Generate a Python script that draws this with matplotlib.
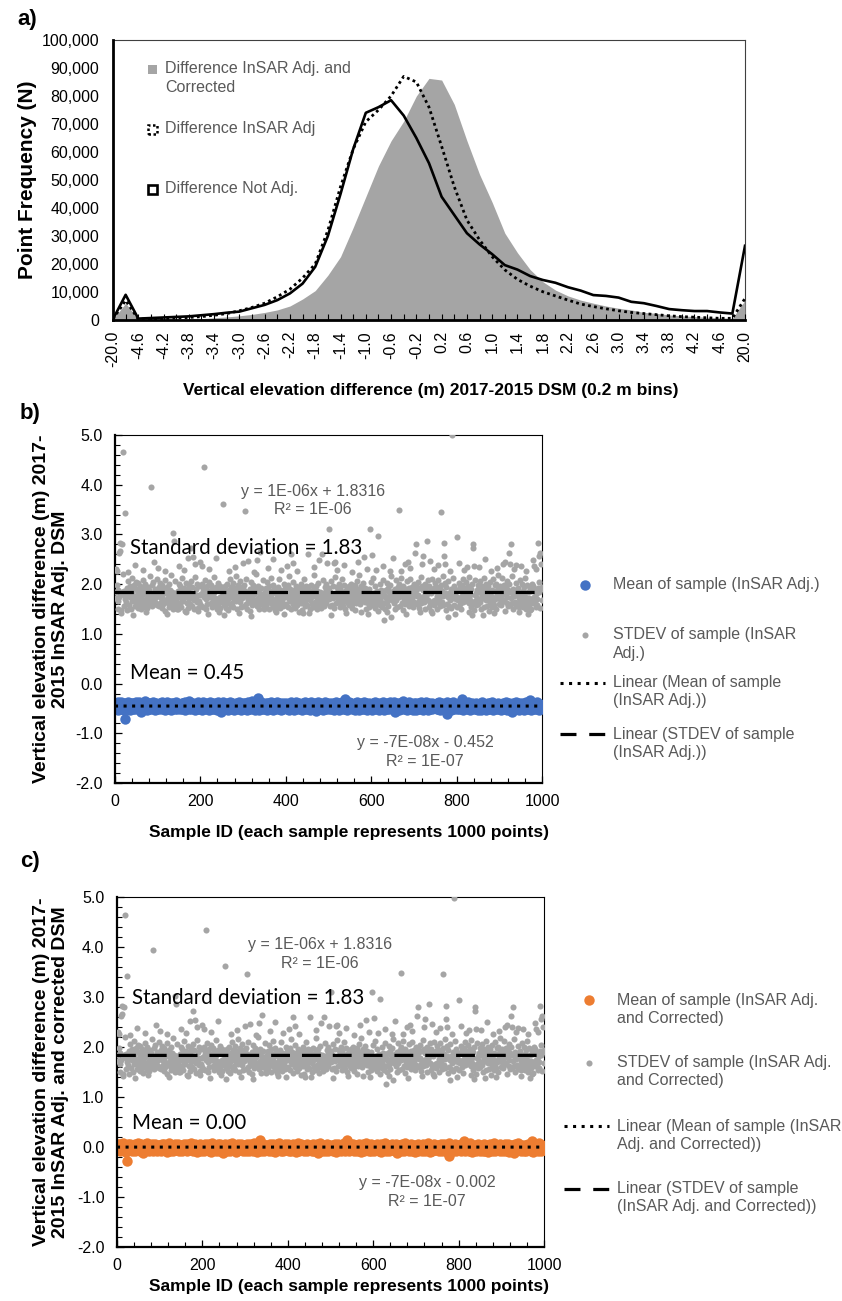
import numpy as np
import matplotlib
matplotlib.use('Agg')
import matplotlib.pyplot as plt
from matplotlib.lines import Line2D
from matplotlib.patches import Rectangle
from matplotlib.ticker import MultipleLocator, FuncFormatter, FormatStrFormatter

plt.rcParams['font.family'] = ['Liberation Sans', 'DejaVu Sans']

W, H = 842, 1301


def fx(px):
    return px / W


def fy(py):
    return 1 - py / H


# ---------------- Panel a data ----------------
bin_labels = ['-20.0', '-4.8', '-4.6', '-4.4', '-4.2', '-4.0', '-3.8', '-3.6', '-3.4', '-3.2',
              '-3.0', '-2.8', '-2.6', '-2.4', '-2.2', '-2.0', '-1.8', '-1.6', '-1.4', '-1.2',
              '-1.0', '-0.8', '-0.6', '-0.4', '-0.2', '0.0', '0.2', '0.4', '0.6', '0.8',
              '1.0', '1.2', '1.4', '1.6', '1.8', '2.0', '2.2', '2.4', '2.6', '2.8',
              '3.0', '3.2', '3.4', '3.6', '3.8', '4.0', '4.2', '4.4', '4.6', '4.8', '20.0']
freq_not_adj = [300, 9000, 500, 700, 900, 1100, 1300, 1700, 2100, 2600,
                3000, 4200, 5400, 7100, 9500, 13000, 19000, 30000, 45000, 61000,
                74000, 76000, 78500, 73000, 65000, 56000, 44000, 37500, 31000, 27000,
                23500, 19600, 18000, 15700, 14300, 13300, 11700, 10500, 8900, 8600,
                8000, 6500, 6000, 5000, 3900, 3500, 3200, 3200, 2700, 2300, 26500]
freq_insar_adj = [300, 7000, 300, 400, 500, 700, 900, 1200, 1700, 2300,
                  3300, 4500, 6000, 8300, 11000, 15000, 20000, 32000, 47600, 61000,
                  70800, 75000, 80000, 87000, 85000, 76000, 62000, 47600, 35700, 28600,
                  22600, 17900, 14500, 12100, 10100, 8600, 7100, 5700, 4800, 4000,
                  3300, 2700, 2300, 1900, 1500, 1200, 1000, 800, 600, 600, 7700]
freq_insar_corrected = [200, 6000, 200, 200, 300, 300, 400, 500, 800, 1100,
                        1500, 2000, 2700, 3600, 5000, 7500, 10500, 16000, 22600, 33000,
                        44000, 55000, 64000, 71000, 80000, 86300, 85700, 77000, 64000, 52000,
                        42000, 31000, 24000, 18000, 13700, 10700, 8600, 7100, 6000, 5000,
                        4200, 3600, 2700, 2400, 1800, 1500, 1200, 1000, 800, 600, 7000]

# ---------------- Panel b/c data ----------------
# STDEV of each 1000-point sample (hundredths of a metre), samples 1..1000
stdev_band = [
    172, 185, 160, 198, 177, 151, 189, 166, 203, 175, 158, 192, 181, 169, 147, 210, 184, 163, 195, 178, 156, 187, 171, 201, 164,
    180, 193, 154, 176, 207, 168, 186, 159, 197, 174, 182, 150, 191, 167, 213, 179, 162, 188, 173, 199, 157, 183, 170, 205, 165,
    190, 176, 153, 184, 202, 169, 181, 158, 196, 172, 149, 187, 178, 164, 209, 175, 161, 193, 183, 155, 200, 171, 186, 166, 180,
    152, 194, 177, 163, 189, 174, 216, 160, 185, 170, 198, 157, 182, 167, 204, 179, 148, 191, 173, 162, 188, 176, 211, 159, 184,
    168, 195, 181, 156, 174, 203, 165, 187, 152, 179, 199, 170, 161, 190, 183, 146, 176, 208, 167, 185, 158, 194, 173, 180, 163,
    201, 154, 188, 177, 166, 219, 171, 184, 160, 197, 175, 151, 189, 169, 182, 206, 164, 178, 157, 192, 172, 186, 150, 200, 174,
    183, 162, 197, 176, 155, 188, 170, 212, 166, 181, 159, 193, 175, 145, 186, 168, 202, 179, 163, 190, 153, 184, 171, 198, 160,
    177, 207, 165, 182, 156, 195, 173, 187, 149, 180, 169, 214, 158, 191, 174, 164, 200, 178, 152, 185, 167, 196, 161, 179, 188,
    157, 180, 201, 169, 186, 154, 192, 175, 163, 209, 178, 150, 189, 171, 196, 160, 183, 167, 205, 174, 147, 187, 176, 162, 199,
    182, 155, 193, 168, 180, 215, 164, 185, 172, 158, 194, 177, 151, 188, 170, 203, 161, 181, 166, 197, 175, 153, 190, 173, 184,
    165, 191, 174, 208, 159, 182, 168, 196, 152, 186, 177, 162, 200, 171, 148, 189, 180, 166, 211, 175, 157, 194, 183, 163, 178,
    202, 155, 187, 170, 192, 161, 179, 217, 167, 184, 150, 198, 173, 188, 158, 176, 206, 164, 181, 154, 195, 172, 185, 160, 190,
    179, 156, 198, 172, 186, 161, 210, 175, 151, 183, 168, 195, 177, 164, 190, 146, 182, 171, 204, 159, 187, 174, 166, 199, 180,
    153, 192, 169, 185, 220, 162, 178, 157, 196, 173, 188, 149, 183, 167, 201, 176, 160, 193, 181, 165, 208, 170, 155, 189, 175,
    184, 167, 193, 158, 177, 205, 163, 189, 172, 150, 196, 180, 166, 187, 174, 213, 160, 182, 154, 199, 176, 169, 191, 148, 185,
    171, 203, 164, 179, 157, 194, 183, 168, 210, 175, 152, 188, 162, 197, 178, 165, 186, 173, 156, 201, 170, 181, 159, 192, 177,
    161, 188, 175, 199, 154, 183, 170, 216, 166, 190, 178, 149, 195, 172, 185, 160, 204, 176, 163, 189, 152, 181, 197, 168, 177,
    158, 207, 173, 186, 165, 193, 155, 180, 171, 200, 162, 187, 175, 147, 192, 169, 184, 211, 157, 179, 166, 196, 174, 188, 159,
    176, 195, 163, 182, 208, 169, 151, 187, 174, 199, 160, 184, 177, 155, 192, 170, 218, 165, 181, 158, 196, 173, 186, 149, 179,
    203, 167, 190, 172, 161, 185, 176, 153, 198, 168, 183, 209, 164, 178, 156, 194, 171, 187, 162, 201, 175, 150, 189, 180, 166,
    192, 170, 156, 185, 177, 206, 164, 181, 159, 197, 173, 188, 152, 179, 214, 167, 183, 162, 195, 176, 148, 190, 171, 200, 165,
    186, 155, 193, 178, 168, 210, 160, 182, 174, 157, 198, 169, 187, 151, 180, 204, 166, 191, 175, 163, 184, 172, 196, 158, 178,
    169, 186, 201, 160, 178, 153, 194, 175, 165, 189, 181, 147, 198, 172, 163, 207, 184, 156, 191, 170, 179, 218, 161, 188, 174,
    152, 196, 183, 167, 202, 176, 158, 185, 171, 193, 164, 180, 150, 199, 173, 187, 162, 212, 177, 155, 190, 168, 182, 205, 166,
    181, 158, 190, 174, 212, 166, 183, 152, 197, 176, 169, 205, 161, 187, 178, 146, 193, 172, 184, 159, 200, 175, 164, 189, 155,
    182, 209, 170, 186, 162, 195, 177, 151, 188, 173, 203, 165, 180, 157, 192, 171, 184, 149, 198, 176, 163, 216, 179, 168, 187,
    173, 197, 162, 185, 150, 191, 177, 208, 168, 182, 155, 194, 180, 166, 201, 174, 157, 188, 171, 213, 163, 186, 178, 148, 196,
    170, 184, 160, 199, 175, 152, 190, 167, 206, 179, 164, 187, 156, 193, 172, 183, 210, 161, 178, 195, 169, 154, 185, 176, 200,
    164, 183, 171, 199, 156, 188, 176, 160, 204, 179, 167, 192, 153, 185, 174, 215, 162, 181, 196, 170, 158, 189, 177, 165, 201,
    150, 186, 173, 194, 161, 180, 208, 168, 184, 155, 197, 175, 163, 190, 146, 182, 172, 211, 166, 187, 159, 193, 178, 169, 203,
    187, 166, 195, 177, 151, 184, 209, 170, 162, 191, 180, 156, 198, 173, 186, 164, 217, 176, 159, 189, 171, 202, 167, 183, 148,
    194, 178, 161, 187, 174, 206, 157, 182, 169, 197, 175, 153, 190, 181, 165, 212, 172, 185, 158, 196, 179, 163, 188, 170, 200,
    175, 154, 189, 168, 203, 181, 160, 194, 173, 186, 149, 199, 177, 165, 210, 171, 183, 157, 192, 176, 166, 205, 180, 152, 187,
    172, 196, 163, 184, 214, 169, 178, 155, 191, 174, 201, 162, 185, 170, 147, 195, 179, 167, 208, 158, 182, 173, 189, 164, 198,
    160, 192, 178, 207, 165, 183, 170, 150, 197, 176, 188, 162, 213, 174, 155, 185, 179, 201, 168, 191, 157, 181, 172, 196, 145,
    186, 169, 204, 163, 177, 193, 154, 189, 175, 210, 166, 182, 159, 198, 171, 186, 151, 200, 178, 167, 194, 173, 219, 161, 184,
    196, 171, 158, 186, 177, 212, 164, 190, 153, 181, 199, 168, 175, 146, 193, 183, 162, 206, 174, 188, 156, 179, 201, 167, 185,
    159, 195, 172, 216, 163, 180, 150, 191, 176, 198, 165, 184, 157, 203, 170, 187, 161, 192, 178, 154, 197, 173, 209, 168, 182,
    178, 163, 201, 172, 187, 155, 194, 180, 166, 213, 175, 151, 189, 169, 198, 160, 184, 207, 173, 158, 192, 177, 164, 186, 149,
    200, 171, 183, 162, 196, 175, 210, 167, 188, 154, 181, 203, 170, 159, 193, 176, 185, 165, 205, 174, 152, 190, 179, 168, 195,
]
# samples that stand out from the band (sample ID, metres)
stdev_outlier_id = [5, 9, 11, 12, 16, 18, 19, 24, 28, 84, 135, 138, 145, 172, 178, 183, 195, 200, 204, 209,
                    254, 256, 299, 304, 332, 340, 349, 413, 418, 441, 453, 455, 484, 497, 500, 512, 516, 576,
                    582, 597, 603, 617, 631, 643, 646, 664, 679, 687, 703, 705, 714, 718, 721, 730, 764, 770,
                    771, 773, 779, 790, 800, 824, 835, 838, 839, 841, 909, 922, 924, 927, 940, 972, 982, 991,
                    993, 995]
stdev_outlier_val = [2.27, 2.62, 2.67, 2.83, 2.81, 4.65, 2.20, 3.43, 1.47, 3.95, 3.02, 2.87, 1.50, 2.53, 2.73,
                     2.55, 1.45, 2.44, 2.37, 4.35, 3.62, 1.37, 2.43, 3.47, 2.48, 2.64, 1.49, 2.61, 2.43, 1.41,
                     2.61, 1.41, 2.60, 2.42, 3.11, 2.43, 2.45, 1.43, 2.55, 3.11, 2.58, 2.97, 1.27, 2.27, 1.34,
                     3.49, 2.40, 2.45, 2.63, 2.81, 1.43, 2.40, 2.57, 2.86, 3.46, 2.56, 2.83, 2.41, 1.34, 4.99,
                     2.95, 2.35, 1.37, 2.81, 2.73, 2.37, 2.40, 2.62, 2.40, 2.81, 2.39, 1.47, 2.37, 2.83, 2.57,
                     2.63]
# samples on the fringes of the band (sample ID, metres)
stdev_edge_id = [3, 31, 47, 66, 92, 101, 117, 150, 161, 188, 221, 237, 268, 281, 312, 326, 358, 371, 389, 402,
                 427, 466, 478, 521, 537, 555, 568, 589, 612, 628, 652, 669, 691, 737, 748, 756, 785, 806, 818,
                 853, 867, 881, 895, 913, 935, 951, 963, 978, 987, 998,
                 14, 42, 73, 121, 166, 218, 243, 290, 318, 377, 396, 432, 507, 541, 593, 638, 681, 742, 797,
                 829, 862, 887, 946, 968]
stdev_edge_val = [2.31, 2.25, 2.38, 2.29, 2.45, 2.33, 2.26, 2.36, 2.28, 2.41, 2.30, 2.52, 2.27, 2.35, 2.47,
                  2.24, 2.32, 2.50, 2.28, 2.37, 2.26, 2.34, 2.48, 2.29, 2.39, 2.25, 2.44, 2.31, 2.28, 2.36,
                  2.52, 2.27, 2.33, 2.46, 2.30, 2.38, 2.26, 2.42, 2.29, 2.35, 2.50, 2.27, 2.33, 2.44, 2.30,
                  2.37, 2.26, 2.48, 2.31, 2.40,
                  1.42, 1.38, 1.44, 1.40, 1.43, 1.39, 1.44, 1.41, 1.36, 1.43, 1.40, 1.44, 1.38, 1.42, 1.40,
                  1.43, 1.39, 1.42, 1.40, 1.44, 1.38, 1.41, 1.43, 1.39]

# Mean of each sample, InSAR Adj. (hundredths of a metre, sign negative), samples 1..1000
mean_adj_band = [
    45, 51, 39, 47, 42, 53, 44, 38, 49, 46, 41, 50, 45, 37, 48, 43, 52, 46, 40, 47, 44, 54, 42, 49, 39,
    46, 51, 43, 48, 45, 38, 50, 44, 47, 41, 53, 46, 40, 49, 43, 52, 45, 39, 48, 44, 51, 42, 47, 37, 46,
    49, 43, 52, 40, 46, 38, 50, 45, 42, 48, 54, 44, 41, 47, 39, 51, 45, 43, 49, 36, 46, 50, 42, 48, 44,
    53, 40, 47, 45, 51, 43, 39, 49, 46, 52, 41, 48, 44, 38, 50, 45, 42, 47, 53, 40, 46, 49, 43, 51, 44,
    41, 48, 46, 52, 39, 45, 50, 43, 47, 38, 51, 44, 49, 42, 46, 54, 40, 47, 45, 43, 50, 37, 48, 44, 52,
    41, 46, 49, 42, 45, 53, 40, 47, 43, 50, 45, 39, 48, 44, 51, 42, 46, 49, 38, 47, 52, 43, 45, 50, 41,
    47, 52, 42, 45, 49, 39, 51, 44, 46, 40, 48, 43, 53, 45, 38, 50, 46, 42, 49, 44, 41, 47, 51, 36, 45,
    48, 43, 52, 40, 46, 49, 44, 39, 50, 47, 42, 54, 45, 41, 48, 46, 51, 43, 38, 49, 45, 52, 40, 47, 44,
    50, 40, 46, 53, 43, 48, 38, 45, 51, 42, 47, 44, 49, 39, 52, 46, 41, 48, 45, 54, 43, 50, 37, 47, 44,
    51, 42, 49, 46, 40, 45, 52, 48, 41, 46, 39, 50, 43, 47, 53, 44, 38, 49, 45, 51, 42, 47, 40, 48, 46,
    43, 49, 51, 38, 46, 44, 52, 41, 47, 45, 50, 39, 48, 43, 53, 46, 42, 49, 37, 45, 51, 44, 47, 40, 50,
    45, 43, 54, 41, 48, 46, 52, 39, 47, 44, 49, 42, 45, 51, 38, 48, 43, 50, 46, 41, 53, 45, 47, 40, 49,
    52, 44, 47, 39, 50, 45, 41, 48, 53, 43, 46, 38, 49, 51, 42, 47, 45, 40, 52, 44, 48, 36, 46, 50, 43,
    49, 41, 54, 45, 47, 39, 51, 44, 48, 42, 46, 53, 40, 50, 45, 43, 47, 38, 52, 46, 49, 41, 45, 51, 44,
    46, 50, 40, 45, 53, 42, 48, 44, 39, 51, 47, 43, 52, 45, 38, 49, 46, 41, 50, 44, 54, 42, 47, 39, 48,
    45, 51, 43, 46, 37, 49, 44, 52, 41, 47, 50, 40, 45, 53, 43, 48, 46, 39, 51, 44, 47, 42, 49, 45, 50,
    39, 47, 52, 44, 49, 41, 46, 53, 43, 48, 45, 50, 38, 47, 42, 51, 44, 46, 40, 54, 48, 43, 49, 45, 37,
    52, 46, 41, 50, 44, 47, 39, 51, 43, 48, 45, 53, 42, 46, 40, 50, 44, 47, 52, 38, 45, 49, 43, 51, 46,
    48, 42, 45, 51, 40, 47, 53, 44, 49, 38, 46, 52, 43, 48, 41, 45, 50, 39, 47, 54, 44, 49, 42, 46, 51,
    37, 48, 45, 43, 52, 40, 47, 50, 44, 46, 53, 41, 49, 45, 42, 51, 38, 47, 44, 52, 46, 40, 48, 43, 50,
    44, 51, 47, 40, 49, 45, 52, 42, 46, 39, 50, 43, 48, 54, 41, 47, 45, 38, 51, 44, 46, 49, 42, 53, 45,
    40, 48, 44, 50, 47, 43, 37, 52, 46, 41, 49, 45, 51, 39, 48, 44, 47, 53, 42, 50, 45, 38, 46, 49, 43,
    50, 45, 39, 48, 43, 52, 46, 41, 49, 44, 53, 40, 47, 45, 51, 38, 48, 43, 46, 50, 42, 54, 44, 49, 39,
    47, 45, 52, 41, 46, 48, 43, 51, 37, 46, 50, 44, 40, 53, 45, 47, 49, 42, 45, 52, 39, 48, 44, 46, 51,
    42, 48, 53, 45, 40, 47, 51, 44, 38, 49, 46, 43, 52, 47, 41, 50, 45, 54, 39, 46, 49, 44, 48, 42, 51,
    45, 37, 47, 53, 43, 50, 41, 46, 49, 44, 52, 40, 48, 45, 47, 43, 51, 38, 46, 50, 44, 49, 42, 47, 45,
    47, 43, 50, 38, 46, 52, 44, 49, 41, 45, 51, 47, 40, 48, 53, 43, 46, 39, 50, 44, 45, 52, 42, 47, 36,
    49, 46, 51, 43, 48, 44, 40, 53, 45, 49, 42, 47, 50, 38, 46, 52, 44, 48, 41, 45, 51, 43, 47, 54, 40,
    45, 50, 42, 47, 53, 39, 48, 44, 51, 46, 40, 49, 45, 52, 43, 47, 38, 50, 44, 48, 53, 41, 46, 49, 44,
    51, 42, 45, 37, 48, 50, 43, 47, 54, 40, 46, 52, 44, 49, 42, 45, 39, 51, 47, 43, 48, 46, 50, 41, 44,
    49, 44, 52, 40, 47, 45, 51, 38, 48, 43, 46, 53, 42, 49, 45, 39, 50, 44, 47, 52, 41, 48, 45, 54, 43,
    46, 50, 37, 49, 44, 47, 51, 42, 45, 48, 40, 53, 46, 43, 50, 38, 47, 52, 44, 49, 45, 41, 48, 46, 51,
    43, 47, 50, 45, 39, 52, 46, 42, 49, 44, 51, 40, 48, 46, 53, 43, 47, 38, 50, 45, 44, 49, 41, 52, 46,
    48, 37, 45, 51, 43, 47, 54, 42, 49, 44, 40, 50, 46, 48, 52, 45, 41, 47, 43, 51, 39, 49, 46, 44, 53,
    51, 46, 42, 49, 44, 53, 40, 47, 45, 38, 48, 52, 43, 46, 50, 41, 47, 45, 54, 42, 49, 44, 39, 51, 46,
    48, 43, 52, 40, 47, 45, 50, 37, 48, 44, 53, 42, 46, 49, 41, 47, 51, 45, 43, 48, 39, 52, 44, 50, 46,
    44, 49, 53, 41, 47, 45, 50, 39, 46, 52, 43, 48, 45, 51, 38, 47, 44, 54, 42, 49, 46, 40, 50, 45, 53,
    43, 48, 47, 41, 51, 44, 52, 39, 46, 49, 42, 47, 45, 50, 37, 48, 43, 51, 46, 44, 53, 40, 49, 45, 47,
    46, 52, 40, 48, 44, 50, 43, 47, 53, 41, 45, 49, 38, 51, 46, 42, 48, 45, 52, 44, 39, 47, 50, 43, 54,
    46, 41, 49, 45, 48, 51, 44, 47, 40, 52, 45, 49, 37, 46, 50, 43, 48, 53, 45, 41, 47, 50, 44, 49, 46,
]
mean_outlier_id = [23, 60, 248, 335, 470, 539, 655, 777, 812, 930, 972]
mean_outlier_val = [72, 57, 57, 30, 56, 31, 57, 62, 32, 57, 33]
mean_correction = 0.45          # "Mean = 0.45" removed for the corrected DSM

trend_stdev = (1e-06, 1.8316)
trend_mean_adj = (-7e-08, -0.452)
trend_mean_cor = (-7e-08, -0.002)

# ---------------- build series ----------------
stdev = np.array(stdev_band, dtype=float) / 100.0
for sid, v in zip(stdev_outlier_id + stdev_edge_id, stdev_outlier_val + stdev_edge_val):
    if sid - 1 < len(stdev):
        stdev[sid - 1] = v
stdev_ids = np.arange(1, len(stdev) + 1)

mean_adj = -np.array(mean_adj_band, dtype=float) / 100.0
for sid, v in zip(mean_outlier_id, mean_outlier_val):
    if sid - 1 < len(mean_adj):
        mean_adj[sid - 1] = -v / 100.0
mean_ids = np.arange(1, len(mean_adj) + 1)
mean_cor = mean_adj + mean_correction

GREY_TXT = '#595959'
GREY_PT = '#A5A5A5'
BLUE = '#4472C4'
ORANGE = '#ED7D31'
CAL = ['Lato', 'DejaVu Sans']
MEAN_MS = 7.5
STD_MS = 4.4

fig = plt.figure(figsize=(W / 100, H / 100), dpi=100)

# =============== Panel a ===============
axa = fig.add_axes([fx(113), fy(320), (745 - 113) / W, (320 - 40) / H])
xa = np.arange(len(bin_labels))
axa.fill_between(xa, freq_insar_corrected, 0, color=GREY_PT, lw=0, zorder=1)
axa.plot(xa, freq_not_adj, color='black', lw=1.9, zorder=2)
axa.plot(xa, freq_insar_adj, color='black', lw=2.0, ls=(0, (1, 1.2)), zorder=3)
axa.set_xlim(0, len(bin_labels) - 1)
axa.set_ylim(0, 100000)
axa.set_yticks(np.arange(0, 100001, 10000))
axa.yaxis.set_major_formatter(FuncFormatter(lambda v, p: f'{int(v):,}'))
axa.set_xticks(xa[::2])
axa.set_xticklabels(bin_labels[::2], rotation=90)
axa.set_xticks(xa[1::2], minor=True)
axa.tick_params(axis='x', which='both', direction='in', length=4, width=0.8, pad=8, labelsize=11.5)
axa.tick_params(axis='y', length=0, pad=10, labelsize=11.5)
for s in ['left', 'bottom']:
    axa.spines[s].set_linewidth(2.0)
    axa.spines[s].set_color('black')
for s in ['top', 'right']:
    axa.spines[s].set_linewidth(0.8)
    axa.spines[s].set_color('#404040')
    axa.spines[s].set_zorder(0)

fig.text(fx(28), fy(180), 'Point Frequency (N)', rotation=90, ha='center', va='center',
         fontsize=15, fontweight='bold')
fig.text(fx(431), fy(390), 'Vertical elevation difference (m) 2017-2015 DSM (0.2 m bins)',
         ha='center', va='center', fontsize=12.5, fontweight='bold')
fig.text(fx(27), fy(20), 'a)', ha='center', va='center', fontsize=16, fontweight='bold')

# legend of panel a
fig.add_artist(Rectangle((fx(147.5), fy(73.5)), 9 / W, 9 / H, transform=fig.transFigure,
                         facecolor=GREY_PT, edgecolor='none'))
fig.add_artist(Rectangle((fx(147.5), fy(133.5)), 9 / W, 9 / H, transform=fig.transFigure,
                         facecolor='none', edgecolor='black', lw=1.8, ls=(0, (1, 1.0))))
fig.add_artist(Rectangle((fx(147.5), fy(193.5)), 9 / W, 9 / H, transform=fig.transFigure,
                         facecolor='none', edgecolor='black', lw=1.9))
for txt, y in [('Difference InSAR Adj. and', 69), ('Corrected', 88),
               ('Difference InSAR Adj', 129), ('Difference Not Adj.', 189)]:
    fig.text(fx(165), fy(y), txt, ha='left', va='center', fontsize=11.5, color=GREY_TXT)


# =============== Panels b and c ===============
def key_line(x0, x1, y, **kw):
    fig.add_artist(Line2D([fx(x0), fx(x1)], [fy(y), fy(y)], transform=fig.transFigure, **kw))


def key_marker(x, y, **kw):
    fig.add_artist(Line2D([fx(x)], [fy(y)], transform=fig.transFigure, ls='none', marker='o', **kw))


def scatter_panel(left, right, top, bottom, means, mean_color, trend_mean, ylabel, letter, letter_y,
                  sd_y, mean_text, mean_y, title_y, eq1, eq2, legend_texts, leg_x):
    ax = fig.add_axes([fx(left), fy(bottom), (right - left) / W, (bottom - top) / H])
    ax.plot(mean_ids, means, ls='none', marker='o', ms=MEAN_MS, color=mean_color, mec='none', zorder=2)
    ax.plot(stdev_ids, stdev, ls='none', marker='o', ms=STD_MS, color=GREY_PT, mec='none', zorder=3)
    tx = np.array([0.0, 1000.0])
    ax.plot(tx, trend_mean[0] * tx + trend_mean[1], color='black', lw=2.2,
            ls=(0, (1, 1.8)), zorder=4)
    ax.plot(tx, trend_stdev[0] * tx + trend_stdev[1], color='black', lw=2.3,
            ls=(0, (5.9, 3.75)), zorder=4)
    ax.set_xlim(0, 1000)
    ax.set_ylim(-2.0, 5.0)
    ax.xaxis.set_major_locator(MultipleLocator(200))
    ax.xaxis.set_minor_locator(MultipleLocator(40))
    ax.yaxis.set_major_locator(MultipleLocator(1.0))
    ax.yaxis.set_minor_locator(MultipleLocator(0.2))
    ax.yaxis.set_major_formatter(FormatStrFormatter('%.1f'))
    ax.tick_params(which='major', direction='in', length=5, width=0.9, labelsize=11.5)
    ax.tick_params(which='minor', direction='in', length=3.5, width=0.8)
    ax.tick_params(axis='y', pad=9)
    ax.tick_params(axis='x', pad=8)
    for s in ['left', 'bottom']:
        ax.spines[s].set_linewidth(1.6)
    for s in ['top', 'right']:
        ax.spines[s].set_linewidth(0.8)
    ax.spines['top'].set_zorder(1)
    ax.spines['right'].set_zorder(1)

    cy = (top + bottom) / 2
    fig.text(fx(51), fy(cy), ylabel, rotation=90, ha='center', va='center',
             fontsize=14, fontweight='bold', linespacing=1.15)
    fig.text(fx(349), fy(title_y), 'Sample ID (each sample represents 1000 points)',
             ha='center', va='center', fontsize=12.5, fontweight='bold')
    fig.text(fx(30), fy(letter_y), letter, ha='center', va='center',
             fontsize=16, fontweight='bold')

    fig.text(fx(left + 15), fy(sd_y), 'Standard deviation = 1.83', ha='left', va='center',
             fontsize=14.8, family=CAL, color='black')
    fig.text(fx(left + 15), fy(mean_y), mean_text, ha='left', va='center',
             fontsize=14.8, family=CAL, color='black')
    for (cx, yy, t) in eq1 + eq2:
        fig.text(fx(cx), fy(yy), t, ha='center', va='center', fontsize=11.5, color=GREY_TXT)

    # legend
    (l1, l2, l3, l4), (y1, y2, y3, y4) = legend_texts
    mx = leg_x
    key_marker(mx, y1, ms=MEAN_MS, color=mean_color, mec='none')
    key_marker(mx, y2, ms=STD_MS, color=GREY_PT, mec='none')
    key_line(mx - 25, mx + 20, y3, color='black', lw=2.2, ls=(0, (1, 1.8)))
    key_line(mx - 25, mx + 20, y4, color='black', lw=2.3, ls=(0, (5.0, 4.0)))
    for lines, y in zip((l1, l2, l3, l4), (y1, y2, y3, y4)):
        for k, t in enumerate(lines):
            fig.text(fx(mx + 28), fy(y + 18 * k), t, ha='left', va='center',
                     fontsize=11.5, color=GREY_TXT)
    return ax


scatter_panel(115, 542, 435, 783, mean_adj, BLUE, trend_mean_adj,
              'Vertical elevation difference (m) 2017-\n2015 InSAR Adj. DSM', 'b)', 413,
              548, 'Mean = 0.45', 673, 832,
              [(313, 492, 'y = 1E-06x + 1.8316'), (313, 509, 'R² = 1E-06')],
              [(425, 742, 'y = -7E-08x - 0.452'), (425, 761, 'R² = 1E-07')],
              ((['Mean of sample (InSAR Adj.)'],
                ['STDEV of sample (InSAR', 'Adj.)'],
                ['Linear (Mean of sample', '(InSAR Adj.))'],
                ['Linear (STDEV of sample', '(InSAR Adj.))']),
               (585, 635, 683, 734)), 585)

scatter_panel(117, 544, 897, 1247, mean_cor, ORANGE, trend_mean_cor,
              'Vertical elevation difference (m) 2017-\n2015 InSAR Adj. and corrected DSM', 'c)', 862,
              998, 'Mean = 0.00', 1123, 1287,
              [(320, 945, 'y = 1E-06x + 1.8316'), (320, 963, 'R² = 1E-06')],
              [(427, 1182, 'y = -7E-08x - 0.002'), (427, 1201, 'R² = 1E-07')],
              ((['Mean of sample (InSAR Adj.', 'and Corrected)'],
                ['STDEV of sample (InSAR Adj.', 'and Corrected)'],
                ['Linear (Mean of sample (InSAR', 'Adj. and Corrected))'],
                ['Linear (STDEV of sample', '(InSAR Adj. and Corrected))']),
               (1000, 1063, 1126, 1189)), 589)

fig.savefig('out.png', dpi=100)
